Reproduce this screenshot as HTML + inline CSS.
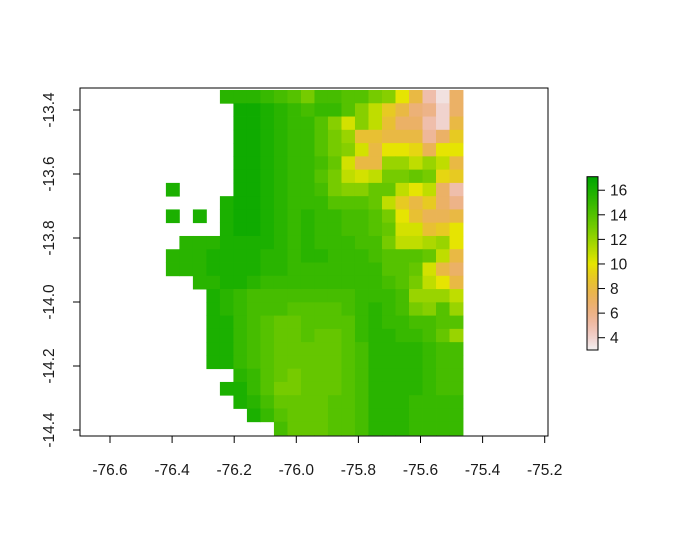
<!DOCTYPE html>
<html><head><meta charset="utf-8"><style>
body{margin:0;background:#fff;}
svg text{font-family:"Liberation Sans",sans-serif;font-size:15.5px;fill:#1a1a1a;}
</style></head><body>
<svg id="chart" width="675" height="543" viewBox="0 0 675 543" xmlns="http://www.w3.org/2000/svg">
<g id="cells"></g>
<rect x="80" y="88" width="468" height="348" fill="none" stroke="#000" stroke-width="1"/>
<g id="xaxis"></g>
<g id="yaxis"></g>
<g id="legend"></g>
</svg>
<script>
const xTicks=[-76.6,-76.4,-76.2,-76.0,-75.8,-75.6,-75.4,-75.2];
const xTickLabels=["-76.6","-76.4","-76.2","-76.0","-75.8","-75.6","-75.4","-75.2"];
const yTicks=[-13.4,-13.6,-13.8,-14.0,-14.2,-14.4];
const yTickLabels=["-13.4","-13.6","-13.8","-14.0","-14.2","-14.4"];
const legendTicks=[4,6,8,10,12,14,16];
const valueMin=3.0, valueMax=17.1;
const lonMin=-76.42, lonStep=0.0435, latMax=-13.3375, latStep=0.04147;
const n=null;
const R23=[13.5,13.5,14,14,14.5,15.5,15.5,15.5,15,15,15,15];
const R19=[13.5,13.5,13.5,14,14.5,15.5,15.5,15.5,15.5,15,14.5,14.5];
const L17=[n,n,n,16,16,15,14.5,14,13.5,13.5];
const grid=[
[n,n,n,n,15.5,15.5,15.5,15,14.5,14,13,14.5,14.5,14,14,13,12.5,10,8,5,3.5,7],
[n,n,n,n,n,16.5,16.5,16,15.5,15,14.5,15,15,14,12.5,11,9,8,6.5,6,4,7],
[n,n,n,n,n,16.5,16.5,16,15.5,15,15,14,12.5,10.5,12.5,11,8.5,7,7,5,4,8],
[n,n,n,n,n,16.5,16.5,16,15.5,15,15,14,13,12,8.5,8.5,8,8,8,5.5,7,9],
[n,n,n,n,n,16.5,16.5,16,15.5,15,15,14,13,12.5,10.5,8,10,10,9.5,7.5,10,10],
[n,n,n,n,n,16.5,16.5,16,15.5,15,15,14.5,13.5,10.5,8,8,12,12,11,12,11,8],
[n,n,n,n,n,16.5,16.5,16,15.5,15,15,14,13,11,10.5,11,13,13,13.5,13,9.5,9],
[16,n,n,n,n,16.5,16.5,16,15.5,15,15,14.5,13,12.5,12.5,13.5,13.5,11,10,11,7,5],
[n,n,n,n,16,16.5,16.5,16,15.5,15,15,15,14,14,14,13.5,11,9,8,9,7,6],
[16,n,16,n,16,16.5,16.5,16,15.5,15,15.5,15,15,14.5,14.5,14,13,10,8.5,7.5,7.5,8],
[n,n,n,n,16,16.5,16.5,16,15.5,15,15.5,15,15,14.5,14.5,14,13.5,10.5,10.5,8.5,9,10],
[n,15.5,15.5,15.5,16,16,16,16,15.5,15,15.5,15,15,15,14.5,14.5,13,11,11,11.5,12,10],
[15.5,15.5,15.5,16,16,16,16,15.5,15.5,15,15.5,15.5,15,15,15,14.5,14,14,14,13.5,11,8],
[15.5,15.5,15.5,16,16,16,16,15.5,15.5,15,15,15,15,15,15,15,14,14,13.5,10.5,8,7],
[n,n,15.5,15.5,16,16,15.5,15,15,15,15,15,15,15,15,15,14.5,14,13,11,10,8],
[n,n,n,16,15.5,15,14.5,14.5,14.5,14.5,14.5,14.5,14.5,14.5,15,15,15,14.5,12,12,12,11],
[n,n,n,16,15.5,15,14.5,14.5,14.5,14,14,14,14,14.5,15,15.5,15,14.5,13,12.5,14,12],
L17.concat([14,14,14,14,15,15.5,15,15,14.5,14.5,14,14]),
L17.concat([14,13.5,13.5,14,15,15.5,15.5,15,15,14.5,13.5,12]),
L17.concat(R19),
L17.concat(R19),
[n,n,n,n,n,15.5,15,14,13.5,13].concat(R19),
[n,n,n,n,16,16,15,14,13,13].concat(R19),
[n,n,n,n,n,16,15.5,14.5,13.5,13.5].concat(R23),
[n,n,n,n,n,n,16,15,14,13.5].concat(R23),
[n,n,n,n,n,n,n,n,14.5,13.5].concat(R23)
];
const NS="http://www.w3.org/2000/svg";
function xs(lon){return 110+(lon+76.6)/0.2*62.1;}
function ys(lat){return 110+(-13.4-lat)/0.2*64;}
function lv(v){return 350-(v-valueMin)/(valueMax-valueMin)*173.3;}
function hsv(h,s,v){h=h*6;const i=Math.floor(h)%6,f=h-Math.floor(h);const p=v*(1-s),q=v*(1-f*s),t=v*(1-(1-f)*s);
let r,g,b;[[r,g,b]]=[[[v,t,p],[q,v,p],[p,v,t],[p,q,v],[t,p,v],[v,p,q]][i]];
const c=x=>Math.round(x*255);return `rgb(${c(r)},${c(g)},${c(b)})`;}
function color(val){let t=(valueMax-val)/(valueMax-valueMin);t=Math.max(0,Math.min(1,t));
if(t<0.5){const u=t*2;return hsv((4-2*u)/12,1,0.65+0.25*u);}
const u=t*2-1;return hsv(2/12*(1-u),1-u,0.9+0.05*u);}
function mk(tag,attrs,parent){const e=document.createElementNS(NS,tag);for(const k in attrs)e.setAttribute(k,attrs[k]);parent.appendChild(e);return e;}
const cells=document.getElementById('cells');
grid.forEach((row,r)=>row.forEach((v,c)=>{if(v===null)return;
const x0=xs(lonMin+c*lonStep),x1=xs(lonMin+(c+1)*lonStep),y0=ys(latMax-r*latStep),y1=ys(latMax-(r+1)*latStep);
const e=mk('rect',{x:x0.toFixed(2),y:y0.toFixed(2),width:(x1-x0+0.4).toFixed(2),height:(y1-y0+0.4).toFixed(2),fill:color(v)},cells);

}));
const xa=document.getElementById('xaxis');
xTicks.forEach((t,i)=>{const x=xs(t);
const l=mk('line',{x1:x,x2:x,y1:436,y2:443,stroke:'#000'},xa);


const tx=mk('text',{x:x,y:475,'text-anchor':'middle'},xa);tx.textContent=xTickLabels[i];

});
const ya=document.getElementById('yaxis');
yTicks.forEach((t,i)=>{const y=ys(t);
const l=mk('line',{x1:73,x2:80,y1:y,y2:y,stroke:'#000'},ya);


const tx=mk('text',{x:54,y:y,'text-anchor':'middle',transform:`rotate(-90 54 ${y})`},ya);tx.textContent=yTickLabels[i];

});
const lg=document.getElementById('legend');
for(let k=0;k<120;k++){const v0=valueMin+(valueMax-valueMin)*k/120,v1=valueMin+(valueMax-valueMin)*(k+1)/120;
const e=mk('rect',{x:587,y:lv(v1),width:11,height:lv(v0)-lv(v1)+0.5,fill:color((v0+v1)/2)},lg);

}
const fr=mk('rect',{x:587,y:lv(valueMax),width:11,height:lv(valueMin)-lv(valueMax),fill:'none',stroke:'#000'},lg);


legendTicks.forEach(t=>{const y=lv(t);
const l=mk('line',{x1:598,x2:605,y1:y,y2:y,stroke:'#000'},lg);


const tx=mk('text',{x:610,y:y+5.5},lg);tx.textContent=String(t);

});
</script>
</body></html>
